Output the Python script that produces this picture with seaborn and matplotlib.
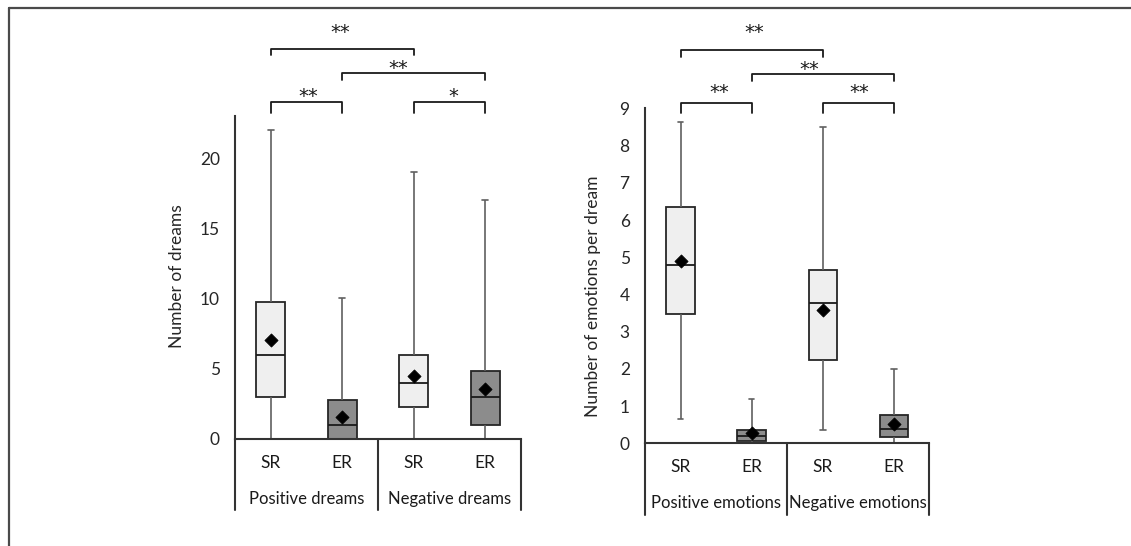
import numpy as np
import pandas as pd
import matplotlib
matplotlib.use("Agg")
import matplotlib.pyplot as plt
import matplotlib.transforms as mtransforms
from matplotlib.lines import Line2D
import seaborn as sns

# box positions: SR / ER within positive and negative groups
box_ids = ["pos_SR", "pos_ER", "neg_SR", "neg_ER"]
tick_labels = ["SR", "ER", "SR", "ER"]

# left panel: number of dreams (min, q1, median, q3, max, mean)
dream_min = [0, 0, 0, 0]
dream_q1 = [3.0, 0.0, 2.25, 1.0]
dream_med = [6.0, 1.0, 4.0, 3.0]
dream_q3 = [9.75, 2.73, 6.0, 4.8]
dream_max = [22.0, 10.0, 19.0, 17.0]
dream_mean = [7.02, 1.54, 4.44, 3.54]
dream_groups = ["Positive dreams", "Negative dreams"]

# right panel: number of emotions per dream
emo_min = [0.65, 0.0, 0.35, 0.0]
emo_q1 = [3.48, 0.07, 2.25, 0.18]
emo_med = [4.78, 0.21, 3.78, 0.38]
emo_q3 = [6.34, 0.36, 4.66, 0.76]
emo_max = [8.64, 1.18, 8.51, 2.0]
emo_mean = [4.91, 0.28, 3.58, 0.51]
emo_groups = ["Positive emotions", "Negative emotions"]

# significance brackets: (from, to, line y, drop, label, text x, text y)
dream_sig = [(0, 2, 27.77, 0.45, "**", 0.97, 29.4),
             (1, 3, 26.07, 0.5, "**", 1.78, 26.8),
             (0, 1, 24.0, 0.75, "**", 0.53, 24.8),
             (2, 3, 24.0, 0.75, "*", 2.55, 24.8)]
emo_sig = [(0, 2, 10.57, 0.19, "**", 1.03, 11.18),
           (1, 3, 9.92, 0.19, "**", 1.81, 10.19),
           (0, 1, 9.14, 0.27, "**", 0.54, 9.57),
           (2, 3, 9.14, 0.27, "**", 2.51, 9.57)]

fill_colors = {"pos_SR": "#efefef", "pos_ER": "#8c8c8c",
               "neg_SR": "#efefef", "neg_ER": "#8c8c8c"}

sns.set_style("white")
plt.rcParams["font.family"] = ["Lato", "DejaVu Sans"]
FS = 12.5
STAR_FS = 14
AX_COLOR = "#333333"


def five_num_frame(mins, q1s, meds, q3s, maxs):
    # 5 values per box -> linear percentiles hit q1/median/q3 exactly
    rows = []
    for b, vals in zip(box_ids, zip(mins, q1s, meds, q3s, maxs)):
        for v in vals:
            rows.append({"box": b, "value": v})
    return pd.DataFrame(rows)


def draw_panel(ax, df, means, ylim, yticks, ylabel, ylabel_y, groups, sig, below):
    sns.boxplot(data=df, x="box", y="value", hue="box", order=box_ids,
                palette=fill_colors, whis=(0, 100), width=0.4, legend=False,
                showfliers=False, linewidth=1.3, linecolor="#262626",
                whiskerprops={"color": "#606060", "linewidth": 1.2},
                capprops={"color": "#606060", "linewidth": 1.2},
                medianprops={"color": "#1a1a1a", "linewidth": 1.3},
                capwidths=0.08, ax=ax)
    sns.scatterplot(x=list(range(4)), y=means, marker="D", s=45,
                    color="black", edgecolor="black", zorder=5, ax=ax)

    ax.set_xlim(-0.5, 3.5)
    ax.set_ylim(*ylim)
    ax.set_yticks(yticks)
    ax.set_yticklabels([str(t) for t in yticks], fontsize=FS)
    ax.tick_params(axis="y", length=0, pad=11)
    ax.set_xticks([])
    ax.set_xlabel("")
    ax.set_ylabel(ylabel, fontsize=FS)
    ax.yaxis.set_label_coords(*ylabel_y)

    for side in ["top", "right"]:
        ax.spines[side].set_visible(False)
    for side in ["left", "bottom"]:
        ax.spines[side].set_color(AX_COLOR)
        ax.spines[side].set_linewidth(1.5)

    trans = mtransforms.blended_transform_factory(ax.transData, ax.transAxes)
    tick_y, group_y, line_y = below
    for x in [-0.5, 1.5, 3.5]:
        ax.add_line(Line2D([x, x], [0, line_y], transform=trans, color=AX_COLOR,
                           linewidth=1.5, clip_on=False))
    for i, lab in enumerate(tick_labels):
        ax.text(i, tick_y, lab, transform=trans, ha="center", va="center",
                fontsize=FS, color="#1a1a1a")
    for g, lab in enumerate(groups):
        ax.text(0.5 + 2 * g, group_y, lab, transform=trans, ha="center",
                va="center", fontsize=12, color="#1a1a1a")

    for a, b, y, drop, lab, tx, ty in sig:
        ax.plot([a, a, b, b], [y - drop, y, y, y - drop], color="#1a1a1a",
                linewidth=1.3, clip_on=False)
        # asterisk glyph sits high in the em box: anchor on baseline, shift down
        ax.annotate(lab, (tx, ty), xytext=(0, -0.58 * STAR_FS),
                    textcoords="offset points", ha="center", va="baseline",
                    fontsize=STAR_FS, family="DejaVu Sans", color="#1a1a1a",
                    annotation_clip=False)


fig = plt.figure(figsize=(11.31, 5.46), dpi=100)
ax1 = fig.add_axes([0.2078, 0.1965, 0.2529, 0.591])
ax2 = fig.add_axes([0.5703, 0.188, 0.2514, 0.6136])

draw_panel(ax1, five_num_frame(dream_min, dream_q1, dream_med, dream_q3, dream_max),
           dream_mean, (0, 23), [0, 5, 10, 15, 20], "Number of dreams",
           (-0.175, 0.503), dream_groups, dream_sig, (-0.0753, -0.187, -0.221))
draw_panel(ax2, five_num_frame(emo_min, emo_q1, emo_med, emo_q3, emo_max),
           emo_mean, (0, 9), list(range(10)), "Number of emotions per dream",
           (-0.156, 0.44), emo_groups, emo_sig, (-0.0699, -0.178, -0.214))

# outer frame (top and left only)
fig.add_artist(Line2D([9 / 1131, 1.0], [1 - 8 / 546, 1 - 8 / 546],
                      transform=fig.transFigure, color="#4a4a4a", linewidth=1.6))
fig.add_artist(Line2D([9 / 1131, 9 / 1131], [0, 1 - 8 / 546],
                      transform=fig.transFigure, color="#4a4a4a", linewidth=1.6))

fig.savefig("out.png", dpi=100)
